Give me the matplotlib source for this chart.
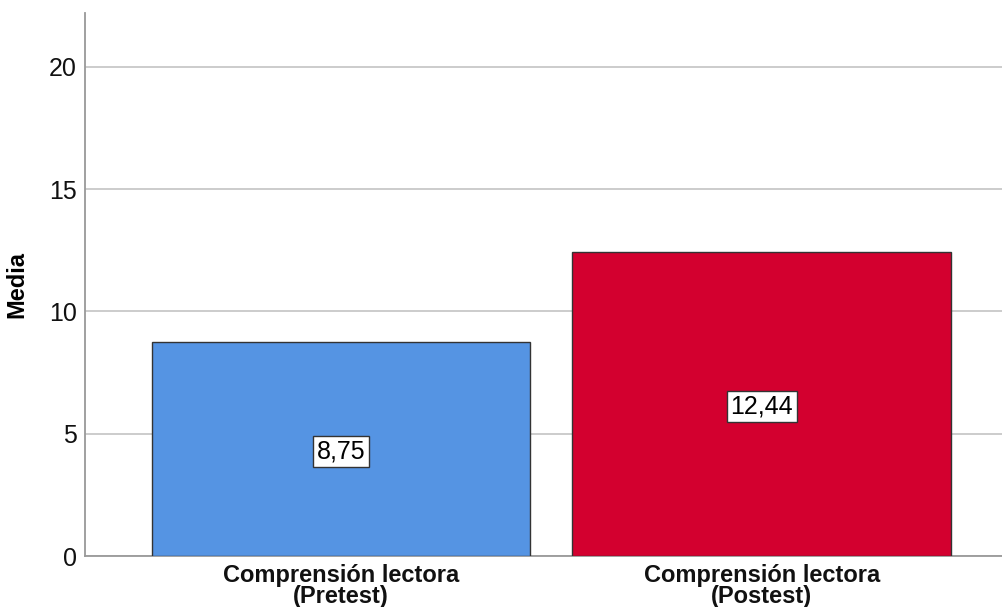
import matplotlib
matplotlib.use("Agg")
import matplotlib.pyplot as plt

categories = ["Comprensión lectora\n(Pretest)", "Comprensión lectora\n(Postest)"]
values = [8.75, 12.44]
value_labels = ["8,75", "12,44"]
colors = ["#5594E3", "#D3002F"]

plt.rcParams['font.family'] = ['Liberation Sans', 'DejaVu Sans']

fig = plt.figure(figsize=(10.03, 6.07), dpi=100)
ax = fig.add_axes([85/1003, 51/607, 1 - 85/1003, (556.5-13.5)/607])

x = list(range(len(categories)))
ax.bar(x, values, width=0.9, color=colors, edgecolor="#333333", linewidth=1.0, zorder=3)
for xi, v, lab in zip(x, values, value_labels):
    ax.text(xi, v/2, lab, ha="center", va="center_baseline", fontsize=18, zorder=4,
            bbox=dict(boxstyle="square,pad=0.15", facecolor="white", edgecolor="#333333", linewidth=1.0))

ax.set_xlim(-0.608, 1.573)
ax.set_ylim(0, 22.2)
ax.set_yticks([0, 5, 10, 15, 20])
ax.set_xticks(x)
ax.set_xticklabels(categories, fontsize=17, fontweight="bold", linespacing=0.88)
ax.tick_params(axis="y", length=0, labelsize=18, pad=6, labelcolor="#111111")
ax.tick_params(axis="x", length=0, pad=6, labelcolor="#111111")
ax.yaxis.grid(True, color="#C8C8C8", linewidth=1.3, zorder=0)
ax.set_axisbelow(True)
for s in ["top", "right"]:
    ax.spines[s].set_visible(False)
for s in ["left", "bottom"]:
    ax.spines[s].set_color("#999999")
    ax.spines[s].set_linewidth(1.3)
ax.set_ylabel("Media", fontsize=17, fontweight="bold")
ax.yaxis.set_label_coords(-0.062, 0.5)

fig.savefig("out.png", dpi=100)
